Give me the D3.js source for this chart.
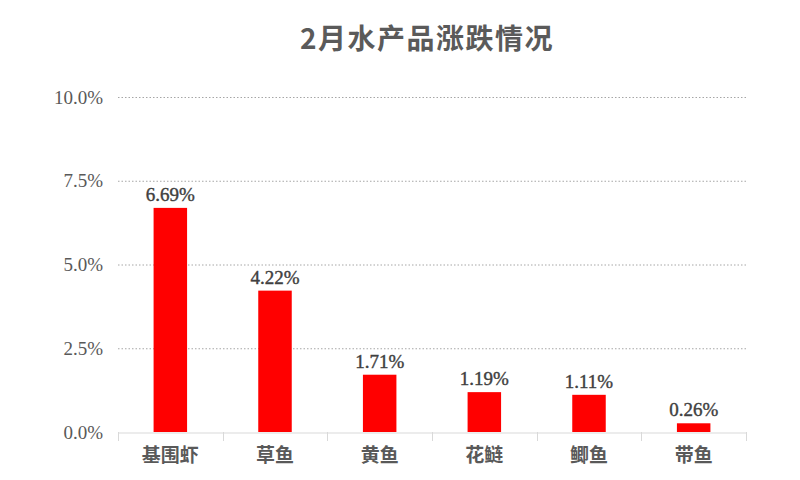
<!DOCTYPE html>
<html><head><meta charset="utf-8">
<script src="https://cdn.jsdelivr.net/npm/d3@7"></script>
<style>body{margin:0;background:#fff}</style>
</head><body>
<svg id="c" width="800" height="480"></svg>
<script>
const categories = ["基围虾","草鱼","黄鱼","花鲢","鲫鱼","带鱼"];
const values = [6.69, 4.22, 1.71, 1.19, 1.11, 0.26];
const yTicks = [0, 2.5, 5, 7.5, 10];
const title = "2月水产品涨跌情况";

const svg = d3.select("#c");
const m = {l:118, r:746, t:97, b:432};
const x = d3.scaleBand().domain(categories).range([m.l, m.r]).paddingInner(0.68).paddingOuter(0.34);
const xb = d3.scaleBand().domain(categories).range([m.l, m.r]);
const y = d3.scaleLinear().domain([0,10]).range([m.b, m.t]);

svg.append("text").attr("x", 427).attr("y", 49).attr("text-anchor","middle")
  .attr("font-family","'Noto Sans CJK SC', sans-serif").attr("font-size",28).attr("font-weight","bold")
  .attr("fill","#5a5a5a").attr("letter-spacing","1.5px").text(title);

// gridlines
svg.append("g").selectAll("line").data(yTicks.filter(d=>d>0)).join("line")
  .attr("x1", m.l).attr("x2", m.r).attr("y1", d=>y(d)+0.5).attr("y2", d=>y(d)+0.5)
  .attr("stroke","#a6a6a6").attr("stroke-width",1).attr("stroke-dasharray","1.5,2");

// y axis labels
const yAxis = d3.axisLeft(y).tickValues(yTicks).tickFormat(d=>d.toFixed(1)+"%").tickSize(0).tickPadding(15);
const ga = svg.append("g").attr("transform",`translate(${m.l},0)`).call(yAxis);
ga.select(".domain").remove();
ga.selectAll("text").attr("font-family","'Liberation Serif', serif").attr("font-size",19).attr("fill","#595959");

// bars
svg.append("g").selectAll("rect").data(values).join("rect")
  .attr("x",(d,i)=>x(categories[i])).attr("width",x.bandwidth())
  .attr("y",d=>y(d)).attr("height",d=>y(0)-y(d)).attr("fill","#ff0000");

// data labels
svg.append("g").selectAll("text").data(values).join("text")
  .attr("x",(d,i)=>x(categories[i])+x.bandwidth()/2).attr("y",d=>y(d)-7)
  .attr("text-anchor","middle").attr("font-family","'Liberation Serif', serif")
  .attr("font-size",19).attr("fill","#404040").attr("stroke","#404040").attr("stroke-width",0.4)
  .text(d=>d.toFixed(2)+"%");

// x axis
const xAxis = d3.axisBottom(xb).tickSize(0).tickPadding(0).tickFormat("");
const gx = svg.append("g").attr("transform",`translate(0,${m.b+0.5})`).call(xAxis);
gx.select(".domain").attr("stroke","#d9d9d9");
const bounds = categories.map(c=>xb(c)).concat([m.r]);
svg.append("g").selectAll("line").data(bounds).join("line")
  .attr("x1",d=>Math.round(d)+0.5).attr("x2",d=>Math.round(d)+0.5).attr("y1",m.b).attr("y2",m.b+9)
  .attr("stroke","#d9d9d9");
svg.append("g").selectAll("text").data(categories).join("text")
  .attr("x",d=>xb(d)+xb.bandwidth()/2).attr("y",462).attr("text-anchor","middle")
  .attr("font-family","'Noto Sans CJK SC', sans-serif").attr("font-size",19).attr("font-weight","bold")
  .attr("fill","#595959").text(d=>d);
</script>
</body></html>
